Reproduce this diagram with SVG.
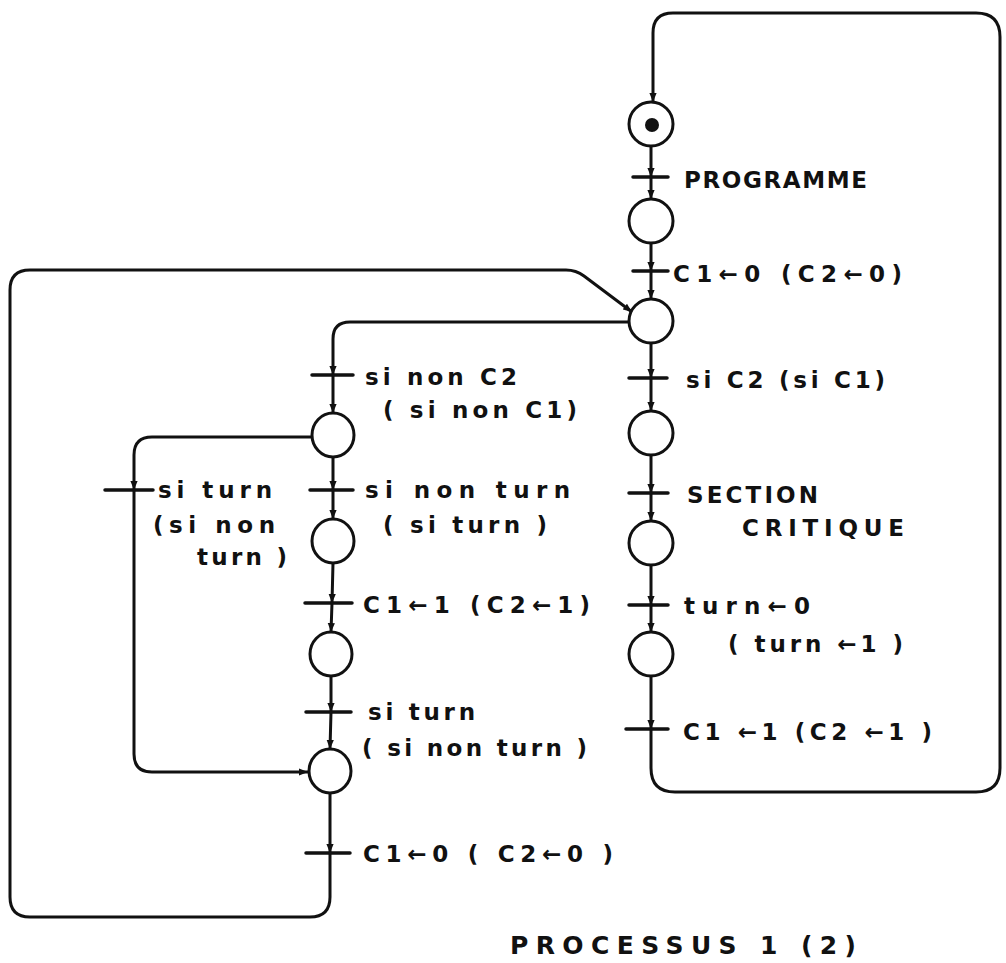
<svg xmlns="http://www.w3.org/2000/svg" width="1006" height="963" viewBox="0 0 1006 963">
<style>
.arc{fill:none;stroke:#111;stroke-width:3;stroke-linecap:round;stroke-linejoin:round}
.pl{fill:#fff;stroke:#111;stroke-width:3}
.tr{stroke:#111;stroke-width:3.5;stroke-linecap:round}
.lb{font-family:"DejaVu Sans","Liberation Sans",sans-serif;font-weight:bold;font-size:23px;fill:#111}
.ti{font-family:"DejaVu Sans","Liberation Sans",sans-serif;font-weight:bold;font-size:25px;fill:#111}
</style>
<defs>
<marker id="ah" viewBox="0 0 10 10" refX="10" refY="5" markerWidth="9" markerHeight="9" markerUnits="userSpaceOnUse" orient="auto">
<path d="M0,1 L10,5 L0,9 Z" fill="#111"/>
</marker>
</defs>
<g id="connectors">
<!-- right column -->
<line class="arc" x1="651" y1="146" x2="651" y2="177" marker-end="url(#ah)"/>
<line class="arc" x1="651" y1="177" x2="651" y2="199" marker-end="url(#ah)"/>
<line class="arc" x1="651" y1="243" x2="651" y2="271" marker-end="url(#ah)"/>
<line class="arc" x1="651" y1="271" x2="651" y2="299" marker-end="url(#ah)"/>
<line class="arc" x1="651" y1="343" x2="651" y2="378" marker-end="url(#ah)"/>
<line class="arc" x1="651" y1="378" x2="651" y2="411" marker-end="url(#ah)"/>
<line class="arc" x1="651" y1="455" x2="651" y2="493" marker-end="url(#ah)"/>
<line class="arc" x1="651" y1="493" x2="651" y2="521" marker-end="url(#ah)"/>
<line class="arc" x1="651" y1="565" x2="651" y2="605" marker-end="url(#ah)"/>
<line class="arc" x1="651" y1="605" x2="651" y2="632" marker-end="url(#ah)"/>
<line class="arc" x1="651" y1="676" x2="651" y2="729" marker-end="url(#ah)"/>
<path class="arc" d="M651,729 V768 Q651,792 675,792 H976 Q1000,792 1000,768 V37 Q1000,13 976,13 H673 Q653,13 653,33 V102" marker-end="url(#ah)"/>
<!-- left column -->
<path class="arc" d="M629,322 H350 Q333,322 333,339 V375" marker-end="url(#ah)"/>
<line class="arc" x1="333" y1="375" x2="333" y2="413" marker-end="url(#ah)"/>
<line class="arc" x1="333" y1="457" x2="333" y2="490" marker-end="url(#ah)"/>
<line class="arc" x1="333" y1="490" x2="333" y2="519" marker-end="url(#ah)"/>
<line class="arc" x1="333" y1="563" x2="332" y2="603" marker-end="url(#ah)"/>
<line class="arc" x1="332" y1="603" x2="331" y2="632" marker-end="url(#ah)"/>
<line class="arc" x1="331" y1="676" x2="331" y2="712" marker-end="url(#ah)"/>
<line class="arc" x1="331" y1="712" x2="330" y2="749" marker-end="url(#ah)"/>
<line class="arc" x1="330" y1="793" x2="330" y2="853" marker-end="url(#ah)"/>
<path class="arc" d="M330,853 V897 Q330,917 310,917 H30 Q10,917 10,897 V290 Q10,270 30,270 H566 Q576,270 584,276 L632,312" marker-end="url(#ah)"/>
<!-- inner left loop -->
<path class="arc" d="M311,437 H152 Q134,437 134,455 V490" marker-end="url(#ah)"/>
<path class="arc" d="M134,490 V754 Q134,772 152,772 H308" marker-end="url(#ah)"/>
</g>
<g id="places">
<g id="p0"><circle class="pl" cx="651" cy="124" r="22"/><circle cx="652" cy="125" r="7" fill="#111"/></g>
<g id="p1"><circle class="pl" cx="651" cy="221" r="22"/></g>
<g id="p2"><circle class="pl" cx="651" cy="321" r="22"/></g>
<g id="p3"><circle class="pl" cx="651" cy="433" r="22"/></g>
<g id="p4"><circle class="pl" cx="651" cy="543" r="22"/></g>
<g id="p5"><circle class="pl" cx="651" cy="654" r="22"/></g>
<g id="l0"><ellipse class="pl" cx="333" cy="435" rx="21" ry="22"/></g>
<g id="l1"><ellipse class="pl" cx="333" cy="541" rx="21" ry="22"/></g>
<g id="l2"><ellipse class="pl" cx="331" cy="654" rx="21" ry="22"/></g>
<g id="l3"><ellipse class="pl" cx="330" cy="771" rx="21" ry="22"/></g>
</g>
<g id="transitions">
<g id="t-programme"><line class="tr" x1="633" y1="177" x2="668" y2="177"/><text class="lb" x="684" y="188" textLength="183" lengthAdjust="spacing">PROGRAMME</text></g>
<g id="t-c1-0"><line class="tr" x1="633" y1="271" x2="668" y2="271"/><text class="lb" x="673" y="282" textLength="229" lengthAdjust="spacing">C1←0 (C2←0)</text></g>
<g id="t-sic2"><line class="tr" x1="629" y1="378" x2="667" y2="378"/><text class="lb" x="686" y="388" textLength="199" lengthAdjust="spacing">si C2 (si C1)</text></g>
<g id="t-section"><line class="tr" x1="629" y1="493" x2="668" y2="493"/><text class="lb" x="687" y="503" textLength="131" lengthAdjust="spacing">SECTION</text><text class="lb" x="742" y="536" textLength="162" lengthAdjust="spacing">CRITIQUE</text></g>
<g id="t-turn0"><line class="tr" x1="629" y1="605" x2="668" y2="605"/><text class="lb" x="684" y="614" textLength="126" lengthAdjust="spacing">turn←0</text><text class="lb" x="728" y="652" textLength="175" lengthAdjust="spacing">( turn ←1 )</text></g>
<g id="t-c1-1r"><line class="tr" x1="626" y1="729" x2="668" y2="729"/><text class="lb" x="683" y="740" textLength="249" lengthAdjust="spacing">C1 ←1  (C2 ←1 )</text></g>
<g id="t-sinonc2"><line class="tr" x1="312" y1="375" x2="353" y2="375"/><text class="lb" x="365" y="385" textLength="152" lengthAdjust="spacing">si non C2</text><text class="lb" x="383" y="418" textLength="194" lengthAdjust="spacing">( si non C1)</text></g>
<g id="t-sinonturn"><line class="tr" x1="310" y1="490" x2="353" y2="490"/><text class="lb" x="365" y="498" textLength="205" lengthAdjust="spacing">si non turn</text><text class="lb" x="383" y="533" textLength="164" lengthAdjust="spacing">( si turn )</text></g>
<g id="t-siturn-left"><line class="tr" x1="105" y1="490" x2="153" y2="490"/><text class="lb" x="158" y="498" textLength="114" lengthAdjust="spacing">si turn</text><text class="lb" x="153" y="533" textLength="122" lengthAdjust="spacing">(si non</text><text class="lb" x="197" y="565" textLength="90" lengthAdjust="spacing">turn )</text></g>
<g id="t-c1-1l"><line class="tr" x1="305" y1="603" x2="352" y2="603"/><text class="lb" x="363" y="613" textLength="227" lengthAdjust="spacing">C1←1 (C2←1)</text></g>
<g id="t-siturn"><line class="tr" x1="306" y1="712" x2="351" y2="712"/><text class="lb" x="368" y="720" textLength="107" lengthAdjust="spacing">si turn</text><text class="lb" x="362" y="756" textLength="225" lengthAdjust="spacing">( si non turn )</text></g>
<g id="t-c1-0l"><line class="tr" x1="306" y1="853" x2="350" y2="853"/><text class="lb" x="363" y="862" textLength="250" lengthAdjust="spacing">C1←0 ( C2←0 )</text></g>
</g>
<text id="title" class="ti" x="510" y="954" textLength="346" lengthAdjust="spacing">PROCESSUS 1 (2)</text>
</svg>
